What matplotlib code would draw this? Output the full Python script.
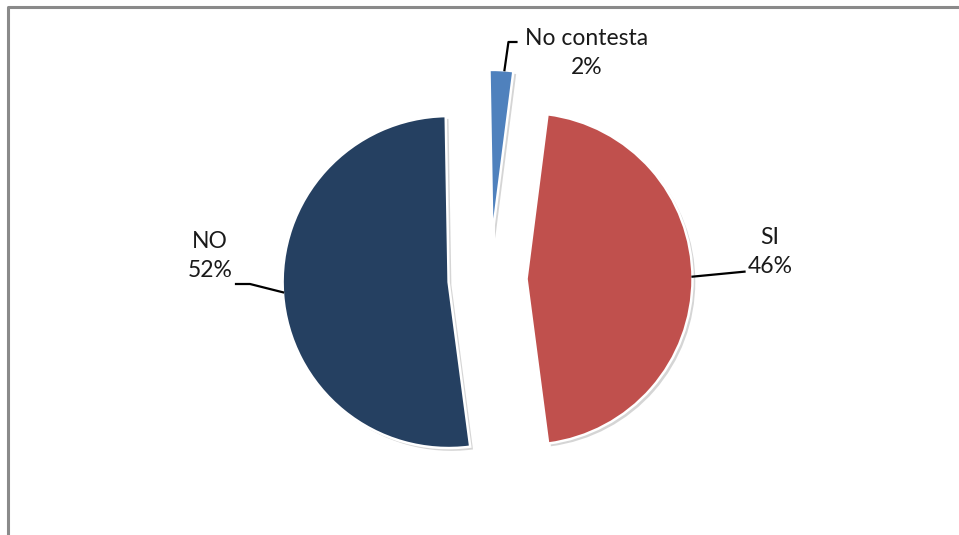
import matplotlib
matplotlib.use("Agg")
import matplotlib.pyplot as plt
import matplotlib.patheffects as pe
import numpy as np

categories = ["No contesta", "SI", "NO"]
values = [2.3, 45.9, 51.8]
pct_labels = ["2%", "46%", "52%"]
colors = ["#4F81BD", "#C0504D", "#254061"]
explode = [0.26, 0.22, 0.25]

W, H = 959, 535
fig = plt.figure(figsize=(W / 100, H / 100), dpi=100)
ax = fig.add_axes([0, 0, 1, 1])

cx, cy, R = 490, H - 279, 166
wedges, _ = ax.pie(values, colors=colors, startangle=91, counterclock=False,
                   explode=[e * R for e in explode], radius=R, center=(cx, cy), frame=True,
                   wedgeprops=dict(edgecolor="white", linewidth=1.8))
ax.set_xlim(0, W)
ax.set_ylim(0, H)
ax.set_aspect("auto")
ax.axis("off")
for w in wedges:
    w.set_path_effects([pe.SimplePatchShadow(offset=(2, -2), shadow_rgbFace="#888888", alpha=0.35),
                        pe.Normal()])

# frame of chart area (partly cropped)
ax.plot([8, 8, W + 5], [-5, H - 7, H - 7], color="#8a8a8a", lw=2.2, clip_on=False)

font = dict(family=["Lato", "DejaVu Sans"], fontsize=16.5, color="#1a1a1a",
            ha="center", va="center", linespacing=1.45)

def arc_point(w):
    th = np.deg2rad((w.theta1 + w.theta2) / 2)
    x0, y0 = w.center
    return x0 + w.r * np.cos(th), y0 + w.r * np.sin(th)

# No contesta
px, py = arc_point(wedges[0])
ax.plot([px + 3, px + 7, px + 15], [py, H - 42, H - 42], color="black", lw=1.6)
ax.text(587, H - 53, f"{categories[0]}\n{pct_labels[0]}", **font)

# SI
px, py = arc_point(wedges[1])
ax.plot([px, px + 52], [py + 2, py + 7], color="black", lw=1.6)
ax.text(770, H - 252, f"{categories[1]}\n{pct_labels[1]}", **font)

# NO
px, py = arc_point(wedges[2])
ax.plot([px, 250, 236], [py + 2, H - 284, H - 284], color="black", lw=1.6)
ax.text(210, H - 256, f"{categories[2]}\n{pct_labels[2]}", **font)

fig.savefig("out.png", dpi=100, facecolor="white")
